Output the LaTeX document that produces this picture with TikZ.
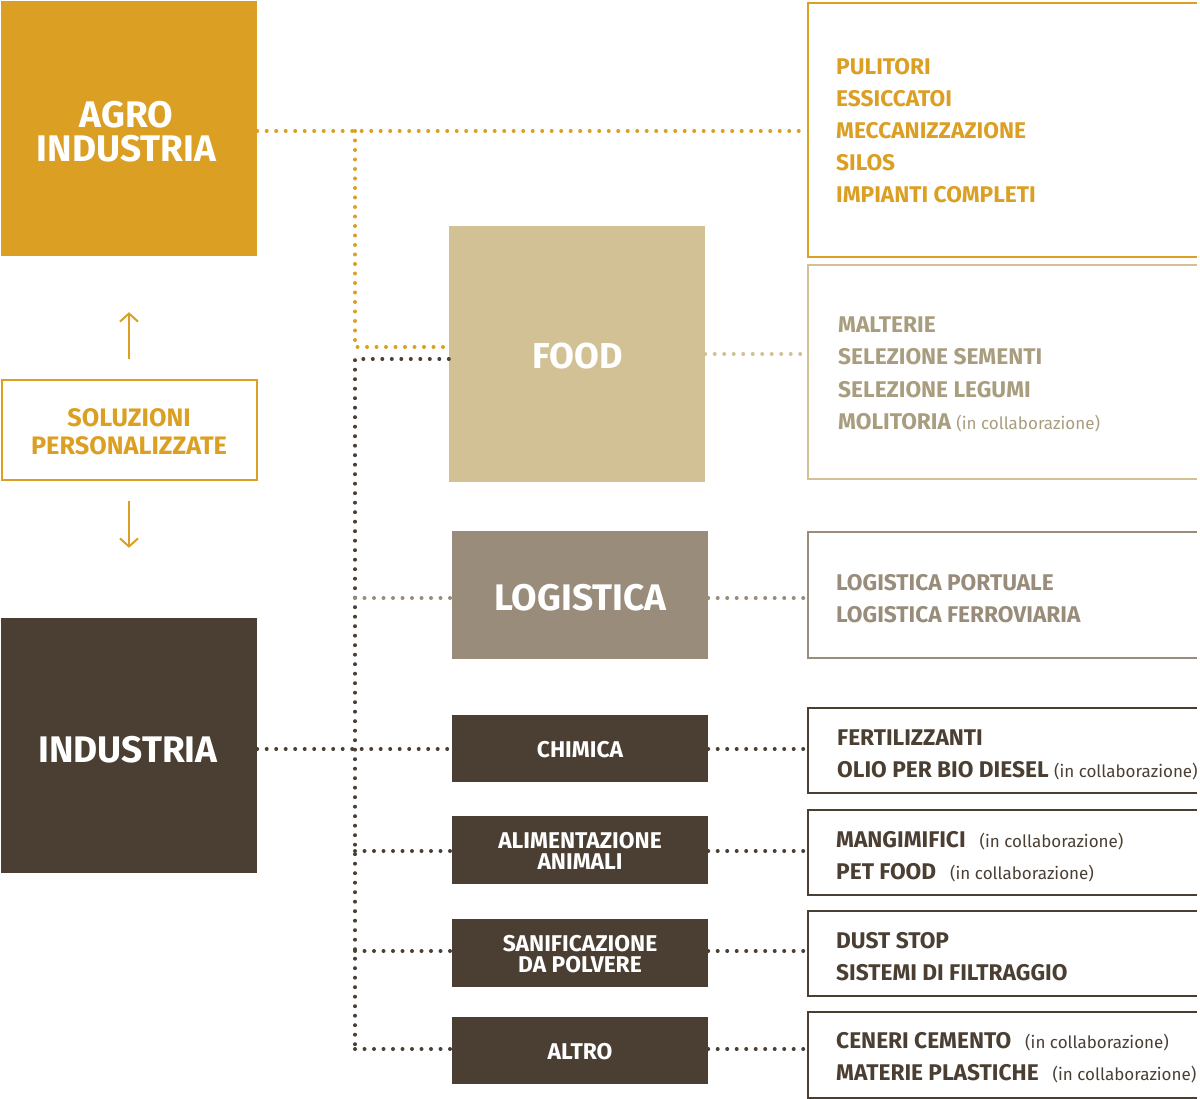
\documentclass[tikz,border=0pt]{standalone}
\usepackage{fontspec}
\setmainfont{Fira Sans}
\usetikzlibrary{arrows.meta}
\definecolor{cgold}{HTML}{DB9F24}
\definecolor{cbeige}{HTML}{D1C195}
\definecolor{cbeigetxt}{HTML}{A89D7E}
\definecolor{cgrey}{HTML}{9A8C7B}
\definecolor{cdark}{HTML}{4B3F33}
\tikzset{
  block/.style={rectangle, inner sep=0pt, minimum width=256pt},
  btext/.style={anchor=base, inner sep=0pt, text=white},
  bigfont/.style={font=\fontsize{37}{37}\selectfont\bfseries},
  smallfont/.style={font=\fontsize{22.8}{23}\selectfont\bfseries},
  dotline/.style={line width=4pt, line cap=round, dash pattern=on 0pt off 9.5pt},
  rbox/.style={rectangle, inner sep=0pt, minimum width=389pt},
  rtext/.style={anchor=base west, inner sep=0pt, font=\fontsize{22.7}{26}\selectfont\bfseries},
  garrow/.style={draw=cgold, line width=2pt, -{Straight Barb[length=8pt,width=18pt,line width=2pt]}}
}
\newcommand{\incoll}{{\fontsize{17}{20}\selectfont\mdseries(in collaborazione)}}
\begin{document}
\begin{tikzpicture}[x=1pt,y=-1pt]
\useasboundingbox (0,0) rectangle (1200,1099);
% left blocks
\node[block, fill=cgold, minimum height=255pt] (agro) at (129,128.5) {};
\node[btext, bigfont] (agro1) at (126.5,128) {AGRO};
\node[btext, bigfont] (agro2) at (126.5,162) {INDUSTRIA};
\node[block, fill=cdark, minimum height=255pt] (ind) at (129,745.5) {};
\node[btext, bigfont] (ind1) at (128,762) {INDUSTRIA};
\node[rectangle, draw=cgold, line width=2pt, minimum width=255pt, minimum height=99pt] (sol) at (129,430) {};
\node[btext, text=cgold, font=\fontsize{25.3}{26}\selectfont\bfseries] (sol1) at (129,426) {SOLUZIONI};
\node[btext, text=cgold, font=\fontsize{25.3}{26}\selectfont\bfseries] (sol2) at (129,454) {PERSONALIZZATE};
\draw[garrow, shorten <=20pt, shorten >=56pt] (sol.north) -- (agro.south);
\draw[garrow, shorten <=20pt, shorten >=70pt] (sol.south) -- (ind.north);
% middle blocks
\node[block, fill=cbeige, minimum height=256pt] (food) at (577,354) {};
\node[btext, font=\fontsize{36}{36}\selectfont\bfseries] (food1) at (577.5,368.5) {FOOD};
\node[block, fill=cgrey, minimum height=128pt] (log) at (580,595) {};
\node[btext, bigfont] (log1) at (580.5,610) {LOGISTICA};
\node[block, fill=cdark, minimum height=67pt] (chim) at (580,748.5) {};
\node[btext, smallfont] (chim1) at (580,757) {CHIMICA};
\node[block, fill=cdark, minimum height=68pt] (alim) at (580,850) {};
\node[btext, smallfont] (alim1) at (580,848) {ALIMENTAZIONE};
\node[btext, smallfont] (alim2) at (580,869) {ANIMALI};
\node[block, fill=cdark, minimum height=68pt] (san) at (580,953) {};
\node[btext, smallfont] (san1) at (580,951) {SANIFICAZIONE};
\node[btext, smallfont] (san2) at (580,972) {DA POLVERE};
\node[block, fill=cdark, minimum height=67pt] (alt) at (580,1050.5) {};
\node[btext, smallfont] (alt1) at (580,1059) {ALTRO};
% right boxes
\node[rbox, minimum height=254pt] (r1) at (1002.5,130) {};
\node[rbox, minimum height=214pt] (r2) at (1002.5,372) {};
\node[rbox, minimum height=126pt] (r3) at (1002.5,595) {};
\node[rbox, minimum height=85pt] (r4) at (1002.5,750.5) {};
\node[rbox, minimum height=85pt] (r5) at (1002.5,852.5) {};
\node[rbox, minimum height=85pt] (r6) at (1002.5,953.5) {};
\node[rbox, minimum height=86pt] (r7) at (1002.5,1055) {};
\draw[cgold, line width=2pt] (r1.north east) -- (r1.north west) -- (r1.south west) -- (r1.south east);
\draw[cbeige, line width=2pt] (r2.north east) -- (r2.north west) -- (r2.south west) -- (r2.south east);
\draw[cgrey, line width=2pt] (r3.north east) -- (r3.north west) -- (r3.south west) -- (r3.south east);
\foreach \r in {r4,r5,r6,r7}
  \draw[cdark, line width=2pt] (\r.north east) -- (\r.north west) -- (\r.south west) -- (\r.south east);
% right texts
\begin{scope}[every node/.append style={rtext, text=cgold}]
\node (t11) at (836,75) {PULITORI};
\node (t12) at (836,107) {ESSICCATOI};
\node (t13) at (836,139) {MECCANIZZAZIONE};
\node (t14) at (836,171) {SILOS};
\node (t15) at (836,203) {IMPIANTI COMPLETI};
\end{scope}
\begin{scope}[every node/.append style={rtext, text=cbeigetxt}]
\node (t21) at (838,333) {MALTERIE};
\node (t22) at (838,365) {SELEZIONE SEMENTI};
\node (t23) at (838,397) {SELEZIONE LEGUMI};
\node (t24) at (838,429) {MOLITORIA \incoll};
\end{scope}
\begin{scope}[every node/.append style={rtext, text=cgrey}]
\node (t31) at (836,590) {LOGISTICA PORTUALE};
\node (t32) at (836,622) {LOGISTICA FERROVIARIA};
\end{scope}
\begin{scope}[every node/.append style={rtext, text=cdark}]
\node (t41) at (837,745) {FERTILIZZANTI};
\node (t42) at (837,777) {OLIO PER BIO DIESEL \incoll};
\node (t51) at (836,847) {MANGIMIFICI\hspace{14pt}\incoll};
\node (t52) at (836,879) {PET FOOD\hspace{14pt}\incoll};
\node (t61) at (836,948) {DUST STOP};
\node (t62) at (836,980) {SISTEMI DI FILTRAGGIO};
\node (t71) at (836,1048) {CENERI CEMENTO\hspace{14pt}\incoll};
\node (t72) at (836,1080) {MATERIE PLASTICHE\hspace{14pt}\incoll};
\end{scope}
% junction coordinates
\coordinate (jg1) at (355,131);
\coordinate (jg2) at (355,347);
\coordinate (jd1) at (355,359);
\coordinate (jd2) at (355,598);
\coordinate (jd3) at (355,749);
\coordinate (jd4) at (355,851);
\coordinate (jd5) at (355,951);
\coordinate (jd6) at (355,1049);
% gold connectors
\draw[dotline, cgold] (agro.east |- jg1) -- (jg1) -- (r1.west |- jg1);
\draw[dotline, cgold] (jg1) -- (jg2) -- (food.west |- jg2);
% dark trunk
\draw[dotline, cdark] (food.west |- jd1) -- (jd1) -- (jd6);
\draw[dotline, cgrey] (jd2) -- (log.west |- jd2);
\draw[dotline, cdark] (ind.east |- jd3) -- (chim.west |- jd3);
\draw[dotline, cdark] (jd4) -- (alim.west |- jd4);
\draw[dotline, cdark] (jd5) -- (san.west |- jd5);
\draw[dotline, cdark] (jd6) -- (alt.west |- jd6);
% right connectors
\draw[dotline, cbeige] (food.east) -- (r2.west |- food.east);
\draw[dotline, cgrey] (log.east |- jd2) -- (r3.west |- jd2);
\draw[dotline, cdark] (chim.east |- jd3) -- (r4.west |- jd3);
\draw[dotline, cdark] (alim.east |- jd4) -- (r5.west |- jd4);
\draw[dotline, cdark] (san.east |- jd5) -- (r6.west |- jd5);
\draw[dotline, cdark] (alt.east |- jd6) -- (r7.west |- jd6);
\end{tikzpicture}
\end{document}
